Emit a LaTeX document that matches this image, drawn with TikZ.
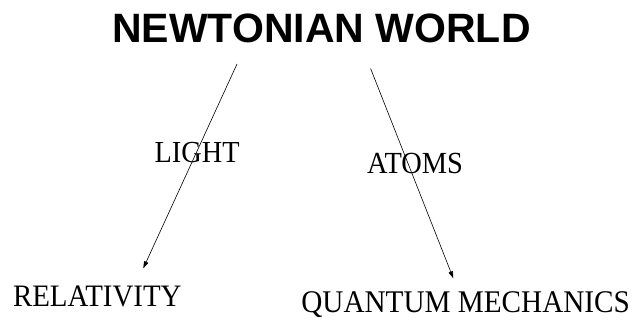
\documentclass[tikz,border=0pt]{standalone}
\usepackage{fontspec}
\usepackage{graphicx}
\setmainfont{Liberation Serif}
\newfontfamily\titlefont{Liberation Sans}
\usetikzlibrary{arrows.meta}
\newcommand{\vst}[1]{\scalebox{1}[1.08]{#1}}
\begin{document}
\begin{tikzpicture}[x=1pt,y=-1pt,
  lbl/.style={inner sep=0pt,anchor=base west},
  conn/.style={line width=0.6pt,-{Triangle[length=7pt,width=4.5pt]}}]
\useasboundingbox (0,0) rectangle (633,320);
\node[inner sep=0pt,anchor=base] (title) at (321.5,42.7)
  {\titlefont\bfseries\fontsize{41}{41}\selectfont NEWTONIAN WORLD};
\node[lbl] (light) at (154.5,162.7) {\vst{\fontsize{28.3}{28.3}\selectfont LIGHT}};
\node[lbl] (atoms) at (367,173.3) {\vst{\fontsize{28.4}{28.4}\selectfont ATOMS}};
\node[lbl] (rel) at (12.8,306.7) {\vst{\fontsize{28.9}{28.9}\selectfont RELATIVITY}};
\node[lbl] (qm) at (301.2,313) {\vst{\fontsize{29.2}{29.2}\selectfont QUANTUM MECHANICS}};
\coordinate (s1) at (237,64);
\coordinate (e1) at (143.3,268.3);
\coordinate (s2) at (370.6,68.5);
\coordinate (e2) at (453.3,278.3);
\draw[conn] (s1) -- (e1);
\draw[conn] (s2) -- (e2);
\end{tikzpicture}
\end{document}
